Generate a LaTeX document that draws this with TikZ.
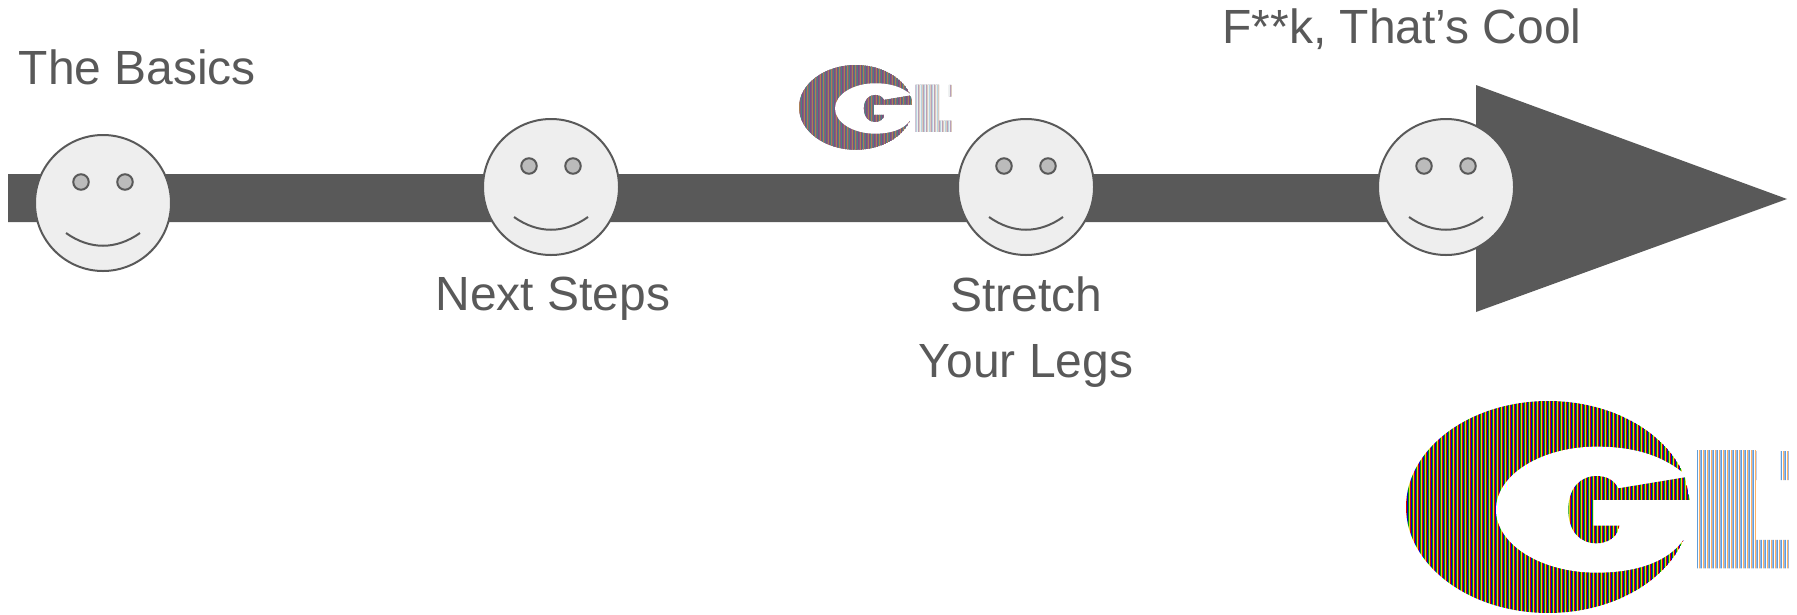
\documentclass[tikz,border=0pt]{standalone}
\usepackage{fontspec}
\setmainfont{Liberation Sans}
\usepackage{xcolor}
\definecolor{cInk}{HTML}{595959}
\definecolor{cFace}{HTML}{EEEEEE}
\definecolor{cEye}{HTML}{BBBBBB}
% vertical stripes starting at #1, four colours
\newcommand{\stripes}[5]{%
  \foreach \si in {0,...,72} {
    \fill[#2] (#1+12*\si,0) rectangle +(3.2,700);
    \fill[#3] (#1+12*\si+3,0) rectangle +(3.2,700);
    \fill[#4] (#1+12*\si+6,0) rectangle +(3.2,700);
    \fill[#5] (#1+12*\si+9,0) rectangle +(3.2,700);
  }%
}
% #4..#7 dark stripes of the G, the L takes cLa..cLd
\newcommand{\logomark}[7]{%
  \begin{scope}[shift={(#1,#2)},scale=#3]
    \begin{scope}
      \clip (475,351) ellipse [x radius=427,y radius=318];
      \stripes{48}{#4}{#5}{#6}{#7}
    \end{scope}
    \fill[white] (875,245) .. controls (810,195) and (730,170) .. (620,170)
      .. controls (453,170) and (318,255) .. (318,359)
      .. controls (318,463) and (453,548) .. (620,548)
      .. controls (730,548) and (830,520) .. (880,450)
      -- (910,450) -- (910,245) -- cycle;
    \begin{scope}
      \clip (535,359) .. controls (535,295) and (570,258) .. (620,258)
        .. controls (650,258) and (672,270) .. (685,295)
        -- (885,262) -- (900,330) -- (610,330) -- (610,407) -- (688,407)
        .. controls (685,440) and (655,460) .. (620,460)
        .. controls (570,460) and (535,425) .. (535,359) -- cycle;
      \stripes{48}{#4}{#5}{#6}{#7}
    \end{scope}
    \begin{scope}
      \clip (920,180) -- (1100,180) -- (1100,450) -- (1197,450) -- (1197,535)
        -- (920,535) -- cycle (1172,183) rectangle (1197,270);
      \stripes{920}{cLa}{cLb}{cLc}{cLd}
    \end{scope}
  \end{scope}%
}
\begin{document}
\begin{tikzpicture}[
    x=0.1mm, y=-0.1mm,
    lbl/.style={text=cInk,inner sep=0pt,align=center,font=\fontsize{13.65}{18.8}\selectfont},
    smiley/.style={circle,draw=cInk,fill=cFace,line width=0.2mm,minimum size=13.6mm,inner sep=0pt},
    eye/.style={circle,draw=cInk,fill=cEye,line width=0.2mm,minimum size=1.55mm,inner sep=0pt},
    mouth/.style={draw=cInk,line width=0.2mm}
  ]
  \useasboundingbox (0,0) rectangle (1797,614);

  \fill[cInk] (8,174) -- (1476,174) -- (1476,85) -- (1787,199) -- (1476,312)
    -- (1476,222) -- (8,222) -- cycle;

  \foreach \fname/\fx/\fy in {fa/103/203,fb/551/187,fc/1026/187,fd/1446/187} {
    \node[smiley] (\fname) at (\fx,\fy) {};
    \node[eye] (\fname l) at (\fx-22,\fy-21) {};
    \node[eye] (\fname r) at (\fx+22,\fy-21) {};
    \draw[mouth] (\fx-37,\fy+30) .. controls (\fx-13,\fy+47) and (\fx+13,\fy+47) .. (\fx+37,\fy+30);
  }

  \node[lbl,anchor=west] (basics) at (18,67) {The Basics};
  \node[lbl] (next) at (553,299) {Next Steps};
  \node[lbl,anchor=north] (legs) at (1026,276) {Stretch\\Your Legs};
  \node[lbl] (cool) at (1402,29) {F**k, That’s Cool};

  % small mark is washed out, large one keeps its colours
  \colorlet{cLa}{violet!35!gray!55}
  \colorlet{cLb}{cyan!10!gray!15}
  \colorlet{cLc}{orange!30!gray!40}
  \colorlet{cLd}{cyan!40!gray!45}
  \logomark{792.6}{60.6}{0.1333}{violet!40!gray}{orange!35!gray}{teal!40!gray}{violet!25!gray}
  \colorlet{cLa}{cyan!60!blue!65}
  \colorlet{cLb}{white}
  \colorlet{cLc}{orange!60}
  \colorlet{cLd}{cyan!50!blue!40}
  \logomark{1390}{390}{0.3333}{red!85!black}{blue!80!black}{green!60!black}{yellow!85!black}
\end{tikzpicture}
\end{document}
